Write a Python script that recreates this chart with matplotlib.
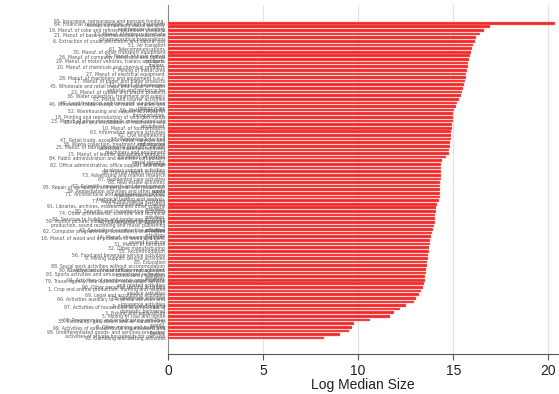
import textwrap
import matplotlib
matplotlib.use("Agg")
import matplotlib.pyplot as plt

labels = [
    "65. Insurance, reinsurance and pension funding, except compulsory social security",
    "64. Financial service activities, except insurance and pension funding",
    "19. Manuf. of coke and refined petroleum products",
    "12. Manuf. of tobacco products",
    "21. Manuf. of basic pharmaceutical products and pharmaceutical preparations",
    "6. Extraction of crude petroleum and natural gas",
    "51. Air transport",
    "61. Telecommunications",
    "30. Manuf. of other transport equipment",
    "24. Manuf. of basic metals",
    "26. Manuf. of computer, electronic and optical products",
    "29. Manuf. of motor vehicles, trailers and semi-trailers",
    "20. Manuf. of chemicals and chemical products",
    "7. Mining of metal ores",
    "27. Manuf. of electrical equipment",
    "28. Manuf. of machinery and equipment n.e.c.",
    "17. Manuf. of paper and paper products",
    "11. Manuf. of beverages",
    "45. Wholesale and retail trade and repair of motor vehicles and motorcycles",
    "22. Manuf. of rubber and plastic products",
    "36. Water collection, treatment and supply",
    "53. Postal and courier activities",
    "49. Land transport and transport via pipelines",
    "46. Wholesale trade, except of motor vehicles and motorcycles",
    "50. Water transport",
    "52. Warehousing and support activities for transportation",
    "18. Printing and reproduction of recorded media",
    "23. Manuf. of other non-metallic mineral products",
    "33. Repair and installation of machinery and equipment",
    "10. Manuf. of food products",
    "63. Information service activities",
    "42. Civil engineering",
    "58. Publishing activities",
    "47. Retail trade, except of motor vehicles and motorcycles",
    "38. Waste collection, treatment and disposal activities; materials recovery",
    "25. Manuf. of fabricated metal products, except machinery and equipment",
    "15. Manuf. of leather and related products",
    "13. Manuf. of textiles",
    "84. Public administration and defence; compulsory social security",
    "37. Sewerage",
    "82. Office administrative, office support and other business support activities",
    "86. Human health activities",
    "73. Advertising and market research",
    "87. Residential care activities",
    "68. Real estate activities",
    "72. Scientific research and development",
    "95. Repair of computers and personal and household goods",
    "39. Remediation activities and other waste management services",
    "71. Architectural and engineering activities; technical testing and analysis",
    "77. Rental and leasing activities",
    "78. Employment activities",
    "91. Libraries, archives, museums and other cultural activities",
    "80. Security and investigation activities",
    "74. Other professional, scientific and technical activities",
    "81. Services to buildings and landscape activities",
    "41. Construction of buildings",
    "59. Motion picture, video and television programme production, sound recording and music publishing activities",
    "43. Specialised construction activities",
    "62. Computer programming, consultancy and related activities",
    "14. Manuf. of wearing apparel",
    "16. Manuf. of wood and of products of wood and cork, except furniture",
    "31. Manuf. of furniture",
    "32. Other manufacturing",
    "55. Accommodation",
    "56. Food and beverage service activities",
    "9. Mining support service activities",
    "85. Education",
    "88. Social work activities without accommodation",
    "90. Creative, arts and entertainment activities",
    "70. Activities of head offices; management consultancy activities",
    "93. Sports activities and amusement and recreation activities",
    "94. Activities of membership organisations",
    "79. Travel agency, tour operator reservation service and related activities",
    "96. Other personal service activities",
    "1. Crop and animal production, hunting and related service activities",
    "69. Legal and accounting activities",
    "75. Veterinary activities",
    "66. Activities auxiliary to financial services and insurance activities",
    "2. Forestry and logging",
    "97. Activities of households as employers of domestic personnel",
    "3. Fishing and aquaculture",
    "5. Mining of coal and lignite",
    "60. Programming and broadcasting activities",
    "35. Electricity, gas, steam and air conditioning supply",
    "8. Other mining and quarrying",
    "99. Activities of extraterritorial organisations and bodies",
    "98. Undifferentiated goods- and services-producing activities of private households for own use",
    "92. Gambling and betting activities",
]

values = [
    20.35, 16.95, 16.60, 16.38, 16.22, 16.12, 16.05, 16.00, 15.93, 15.88,
    15.83, 15.78, 15.75, 15.72, 15.68, 15.65, 15.62, 15.58, 15.52, 15.45,
    15.38, 15.30, 15.20, 15.12, 15.05, 15.00, 14.98, 14.96, 14.94, 14.92,
    14.90, 14.88, 14.86, 14.84, 14.82, 14.80, 14.75, 14.60, 14.42, 14.38,
    14.36, 14.35, 14.34, 14.33, 14.32, 14.31, 14.30, 14.29, 14.28, 14.27,
    14.12, 14.10, 14.08, 14.06, 14.04, 14.02, 14.00, 13.95, 13.90, 13.85,
    13.80, 13.76, 13.72, 13.70, 13.68, 13.66, 13.63, 13.60, 13.57, 13.55,
    13.52, 13.50, 13.45, 13.40, 13.30, 13.20, 13.05, 12.95, 12.50, 12.20,
    11.90, 11.65, 10.60, 9.80, 9.65, 9.50, 9.05, 8.20,
]

x_ticks = [0, 5, 10, 15, 20]
x_label = "Log Median Size"

fig = plt.figure(figsize=(5.59, 3.94), dpi=100)
ax = fig.add_axes([0.3005, 0.1015, 0.6975, 0.8855])

pos = list(range(len(values)))
ax.barh(pos, values, height=0.74, color="#f02a2a", edgecolor="#ff8a8a",
        linewidth=0.3, zorder=3)

ax.set_xlim(0, 20.5)
ax.set_ylim(len(values) - 1 + 4.4, -5)
ax.set_xticks(x_ticks)
ax.set_xticklabels([str(t) for t in x_ticks], fontsize=10,
                   family="Liberation Sans", color="#222222")
for t in x_ticks[1:]:
    ax.axvline(t, color="#e3e3e3", linewidth=0.9, zorder=1)

ax.set_yticks(pos)
wrapped = [textwrap.fill(l, 52) for l in labels]
ax.set_yticklabels(wrapped, fontsize=3.3, color="#5a5a5a", linespacing=0.8)
ax.tick_params(axis="y", length=0, pad=2)
ax.tick_params(axis="x", length=4, width=0.8, color="#555555", pad=3)

for s in ["top", "right"]:
    ax.spines[s].set_visible(False)
ax.spines["left"].set_color("#888888")
ax.spines["left"].set_linewidth(0.8)
ax.spines["bottom"].set_color("#555555")
ax.spines["bottom"].set_linewidth(0.8)

ax.set_xlabel(x_label, fontsize=10, family="Liberation Sans", color="#222222",
              labelpad=0)

fig.savefig("out.png", dpi=100)
